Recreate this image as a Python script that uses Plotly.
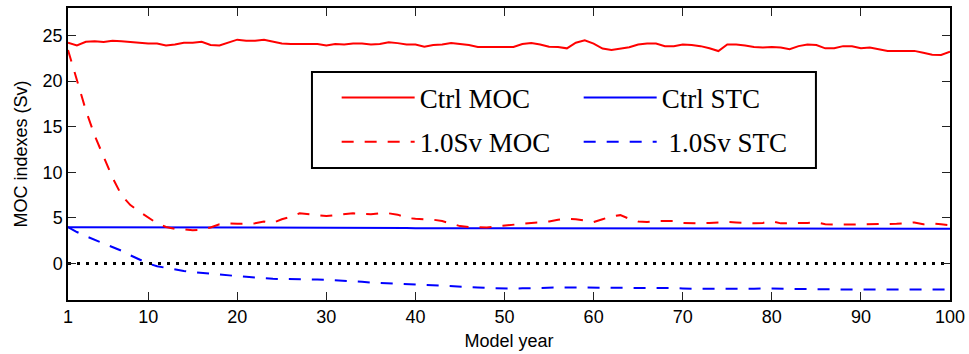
import plotly.graph_objects as go

years = list(range(1, 101))

ctrl_moc = [
    24.2, 23.9, 24.3, 24.35, 24.27, 24.4, 24.35, 24.3, 24.2, 24.1,
    24.1, 23.9, 24.0, 24.2, 24.2, 24.3, 23.95, 23.9, 24.2, 24.53,
    24.4, 24.4, 24.53, 24.3, 24.1, 24.05, 24.05, 24.05, 24.05, 23.9,
    24.05, 24.0, 24.1, 24.1, 24.0, 24.05, 24.25, 24.15, 24.0, 24.0,
    23.76, 23.94, 24.0, 24.15, 24.05, 23.94, 23.73, 23.73, 23.73, 23.76,
    23.73, 24.05, 24.15, 24.0, 23.76, 23.73, 23.58, 24.2, 24.45, 24.1,
    23.55, 23.4, 23.58, 23.7, 24.0, 24.1, 24.1, 23.82, 23.82, 24.0,
    23.94, 23.82, 23.58, 23.28, 24.0, 24.0, 23.9, 23.73, 23.66, 23.73,
    23.66, 23.48, 23.82, 24.0, 23.94, 23.58, 23.58, 23.82, 23.8, 23.58,
    23.66, 23.5, 23.28, 23.28, 23.28, 23.3, 23.1, 22.88, 22.85, 23.2,
]

ctrl_stc = [
    3.98, 3.98, 3.97, 3.97, 3.97, 3.97, 3.97, 3.97, 3.97, 3.97,
    3.97, 3.97, 3.97, 3.97, 3.97, 3.97, 3.97, 3.97, 3.97, 3.97,
    3.97, 3.96, 3.96, 3.96, 3.96, 3.96, 3.95, 3.93, 3.90, 3.94,
    3.95, 3.95, 3.95, 3.94, 3.94, 3.94, 3.93, 3.92, 3.90, 3.87,
    3.86, 3.86, 3.86, 3.86, 3.86, 3.86, 3.86, 3.86, 3.86, 3.87,
    3.87, 3.87, 3.90, 3.87, 3.86, 3.86, 3.86, 3.86, 3.88, 3.90,
    3.88, 3.84, 3.83, 3.84, 3.86, 3.86, 3.86, 3.86, 3.86, 3.85,
    3.84, 3.83, 3.85, 3.82, 3.84, 3.85, 3.84, 3.83, 3.82, 3.82,
    3.83, 3.84, 3.85, 3.85, 3.85, 3.85, 3.85, 3.85, 3.84, 3.83,
    3.82, 3.82, 3.82, 3.82, 3.82, 3.82, 3.82, 3.81, 3.79, 3.81,
]

sv_moc = [
    23.4, 20.0, 16.8, 14.0, 11.6, 9.4, 7.5, 6.4, 5.7, 5.0,
    4.4, 4.0, 3.8, 3.75, 3.65, 3.7, 3.95, 4.3, 4.4, 4.35,
    4.4, 4.4, 4.6, 4.45, 4.85, 5.1, 5.5, 5.4, 5.25, 5.2,
    5.3, 5.4, 5.5, 5.45, 5.4, 5.5, 5.5, 5.35, 5.0, 4.9,
    4.85, 4.8, 4.65, 4.35, 4.1, 4.0, 4.0, 3.95, 4.05, 4.15,
    4.25, 4.4, 4.45, 4.5, 4.6, 4.8, 4.9, 4.85, 4.7, 4.55,
    4.85, 5.15, 5.3, 4.9, 4.6, 4.55, 4.65, 4.65, 4.65, 4.45,
    4.4, 4.4, 4.45, 4.5, 4.55, 4.5, 4.45, 4.4, 4.45, 4.65,
    4.4, 4.45, 4.45, 4.45, 4.5, 4.3, 4.25, 4.27, 4.27, 4.27,
    4.27, 4.3, 4.3, 4.35, 4.4, 4.5, 4.3, 4.4, 4.3, 4.2,
]

sv_stc = [
    4.0, 3.45, 3.0, 2.6, 2.2, 1.8, 1.4, 0.9, 0.45, 0.0,
    -0.3, -0.5, -0.65, -0.82, -0.95, -1.05, -1.15, -1.22, -1.3, -1.38,
    -1.45, -1.55, -1.63, -1.67, -1.7, -1.7, -1.7, -1.72, -1.76, -1.8,
    -1.83, -1.87, -1.9, -2.0, -2.08, -2.12, -2.15, -2.18, -2.22, -2.27,
    -2.3, -2.38, -2.45, -2.5, -2.53, -2.56, -2.62, -2.68, -2.72, -2.74,
    -2.74, -2.72, -2.68, -2.67, -2.65, -2.63, -2.63, -2.63, -2.63, -2.63,
    -2.63, -2.65, -2.68, -2.7, -2.7, -2.7, -2.7, -2.7, -2.7, -2.74,
    -2.78, -2.78, -2.77, -2.77, -2.8, -2.83, -2.8, -2.76, -2.74, -2.76,
    -2.78, -2.8, -2.8, -2.8, -2.8, -2.82, -2.85, -2.85, -2.85, -2.85,
    -2.85, -2.85, -2.85, -2.84, -2.83, -2.82, -2.83, -2.85, -2.85, -2.85,
]

zero_x = [1, 100]
zero_y = [0, 0]

x_ticks = [1, 10, 20, 30, 40, 50, 60, 70, 80, 90, 100]
y_ticks = [0, 5, 10, 15, 20, 25]

RED = "#ff0000"
BLUE = "#0000ff"
DASH = "12px,11px"

fig = go.Figure()
fig.add_trace(go.Scatter(x=years, y=ctrl_moc, mode="lines", name="Ctrl MOC",
                         line=dict(color=RED, width=2), legend="legend"))
fig.add_trace(go.Scatter(x=years, y=ctrl_stc, mode="lines", name="Ctrl STC",
                         line=dict(color=BLUE, width=2), legend="legend2"))
fig.add_trace(go.Scatter(x=years, y=sv_moc, mode="lines", name="1.0Sv MOC",
                         line=dict(color=RED, width=2, dash=DASH), legend="legend3"))
fig.add_trace(go.Scatter(x=years, y=sv_stc, mode="lines", name=" 1.0Sv STC",
                         line=dict(color=BLUE, width=2, dash=DASH), legend="legend4"))
fig.add_trace(go.Scatter(x=zero_x, y=zero_y, mode="lines", showlegend=False,
                         line=dict(color="black", width=3, dash="3px,6px")))

leg_font = dict(family="Liberation Serif, Times New Roman, serif", size=27, color="black")
common = dict(font=leg_font, bgcolor="rgba(0,0,0,0)", borderwidth=0,
              itemwidth=73, xanchor="left", yanchor="middle", orientation="v")

fig.update_layout(
    width=969, height=354,
    margin=dict(l=68, r=19, t=8, b=54),
    paper_bgcolor="white", plot_bgcolor="white",
    font=dict(family="Liberation Sans, Arial, sans-serif", size=18, color="black"),
    legend=dict(x=0.3046, y=0.692, **common),
    legend2=dict(x=0.579, y=0.692, **common),
    legend3=dict(x=0.3046, y=0.54, **common),
    legend4=dict(x=0.579, y=0.54, **common),
    xaxis=dict(range=[1, 100], tickvals=x_ticks, ticks="inside", ticklen=8,
               tickcolor="#222", showline=True, linecolor="black", linewidth=1.5,
               mirror="ticks", showgrid=False, zeroline=False, automargin=False,
               title=dict(text="Model year", standoff=8, font=dict(size=18))),
    yaxis=dict(range=[-4, 28], tickvals=y_ticks, ticks="inside", ticklen=8,
               tickcolor="#222", showline=True, linecolor="black", linewidth=1.5,
               mirror="ticks", showgrid=False, zeroline=False, automargin=False,
               title=dict(text="MOC indexes (Sv)", standoff=10, font=dict(size=18))),
    shapes=[dict(type="rect", xref="paper", yref="paper",
                 x0=0.2766, x1=0.848, y0=0.452, y1=0.781,
                 line=dict(color="black", width=2), fillcolor="white", layer="below")],
)

fig.write_html("out.html")
